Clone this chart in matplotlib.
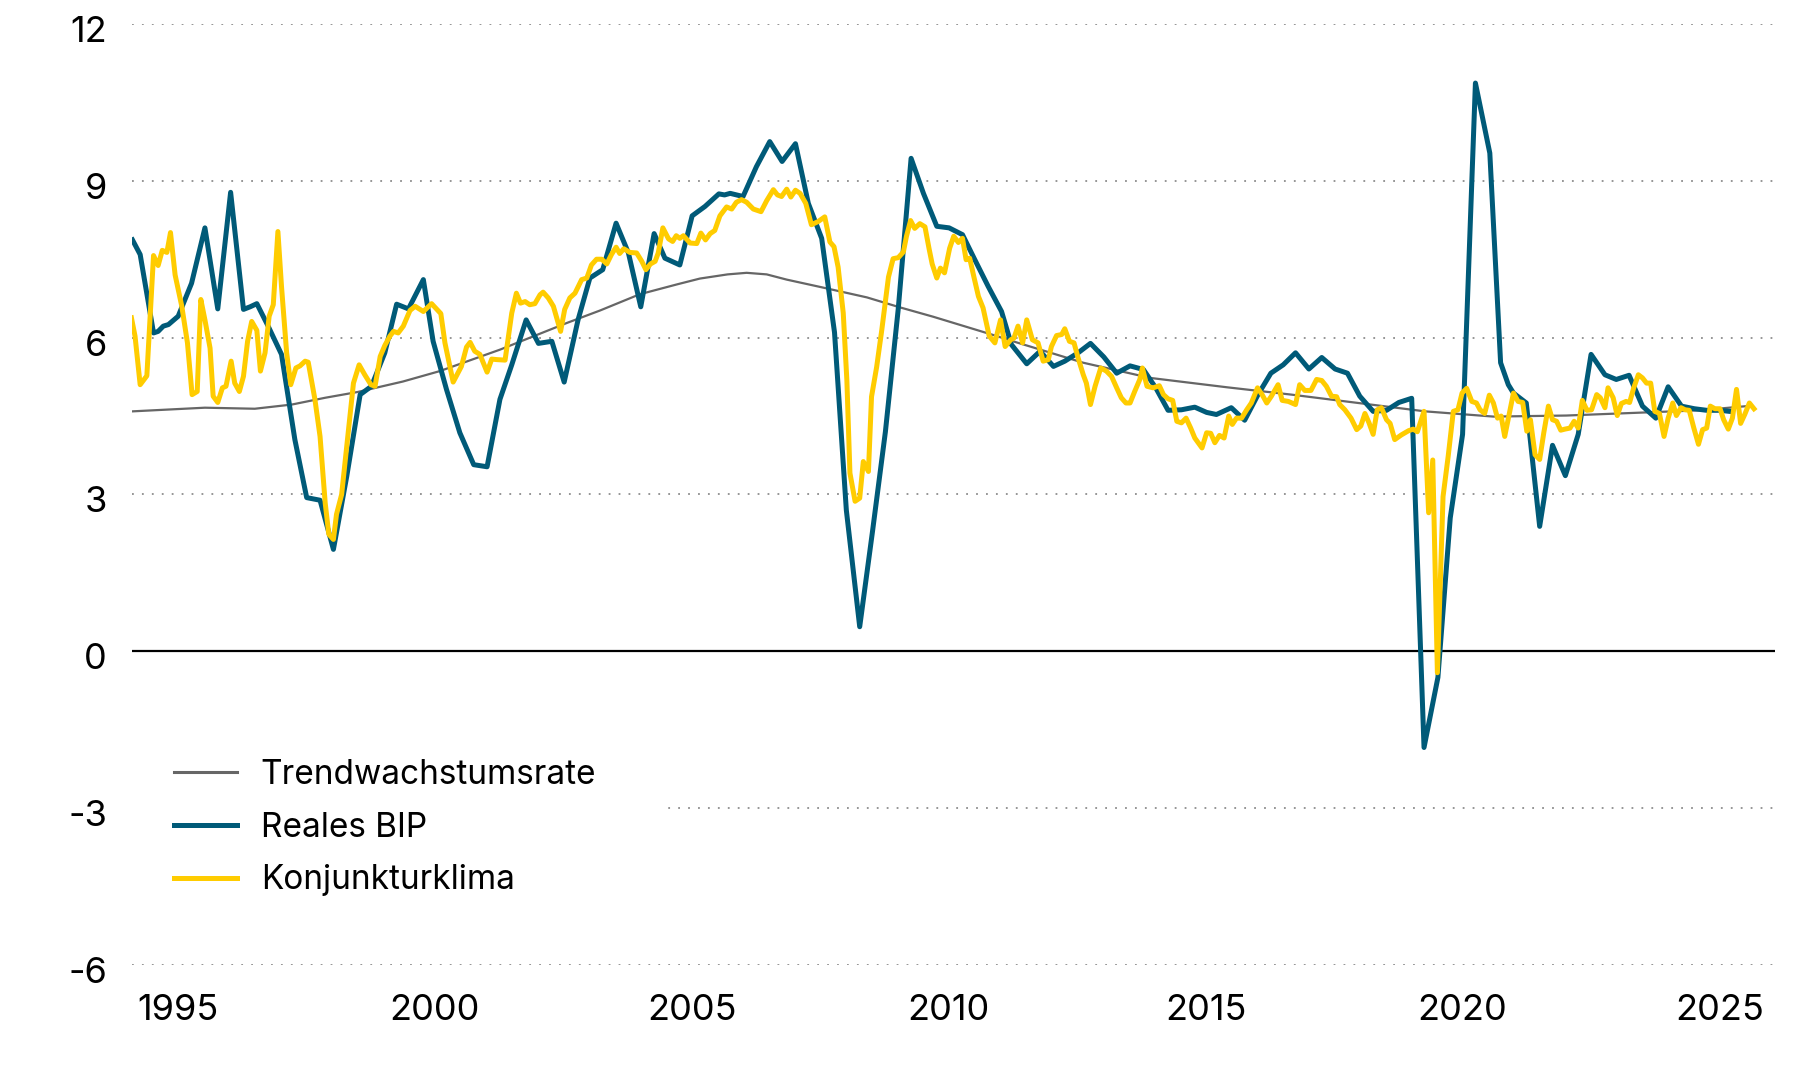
"""Reales BIP, Konjunkturklima und Trendwachstumsrate."""

import matplotlib
matplotlib.use('Agg')
import matplotlib.pyplot as plt
from matplotlib.patches import Rectangle
from matplotlib.transforms import ScaledTranslation

plt.rcParams['font.family'] = ['Inter', 'DejaVu Sans']

# Trendwachstumsrate
trend_t = [1994.12, 1995.53, 1996.50, 1997.22, 1997.87, 1998.50, 1999.38,
           2000.10, 2001.27, 2002.57, 2003.22, 2003.99, 2004.72, 2005.16,
           2005.70, 2006.07, 2006.46, 2006.85, 2007.50, 2008.41, 2009.05,
           2009.70, 2010.87, 2011.32, 2012.62, 2013.92, 2015.42, 2016.67,
           2017.97, 2019.27, 2020.60, 2022.02, 2023.32, 2024.62, 2025.53]
trend_v = [4.59, 4.66, 4.64, 4.72, 4.85, 4.96, 5.16,
           5.36, 5.77, 6.28, 6.52, 6.83, 7.02, 7.13,
           7.21, 7.24, 7.21, 7.11, 6.97, 6.77, 6.58,
           6.40, 6.05, 5.91, 5.52, 5.23, 5.05, 4.91,
           4.75, 4.59, 4.49, 4.51, 4.56, 4.61, 4.69]

# Reales BIP (Quartale)
bip_t = [1994.12, 1994.27, 1994.53, 1994.62, 1994.72, 1994.82, 1995.01,
         1995.27, 1995.53, 1995.78, 1996.03, 1996.28, 1996.41, 1996.54,
         1996.76, 1997.02, 1997.28, 1997.51, 1997.77, 1998.03, 1998.29,
         1998.55, 1998.77, 1999.03, 1999.26, 1999.49, 1999.78, 1999.97,
         2000.23, 2000.49, 2000.76, 2001.02, 2001.27, 2001.50, 2001.78,
         2002.02, 2002.28, 2002.52, 2002.79, 2003.02, 2003.27, 2003.53,
         2003.77, 2004.01, 2004.27, 2004.48, 2004.77, 2005.01, 2005.26,
         2005.53, 2005.64, 2005.75, 2006.00, 2006.26, 2006.52, 2006.76,
         2007.02, 2007.27, 2007.53, 2007.78, 2008.01, 2008.27, 2008.52,
         2008.77, 2009.02, 2009.27, 2009.51, 2009.77, 2010.01, 2010.27,
         2010.51, 2010.77, 2011.03, 2011.22, 2011.52, 2011.78, 2012.04,
         2012.26, 2012.52, 2012.76, 2013.02, 2013.27, 2013.53, 2013.79,
         2014.03, 2014.27, 2014.53, 2014.79, 2015.02, 2015.21, 2015.50,
         2015.76, 2016.02, 2016.27, 2016.51, 2016.75, 2017.01, 2017.26,
         2017.52, 2017.76, 2018.00, 2018.26, 2018.52, 2018.76, 2019.01,
         2019.25, 2019.52, 2019.76, 2020.00, 2020.25, 2020.53, 2020.74,
         2020.89, 2020.99, 2021.24, 2021.50, 2021.75, 2022.00, 2022.25,
         2022.50, 2022.77, 2022.99, 2023.24, 2023.50, 2023.76, 2024.00,
         2024.26, 2024.51, 2024.75, 2025.01, 2025.19]
bip_v = [7.87, 7.59, 6.09, 6.12, 6.22, 6.25, 6.41,
         7.04, 8.10, 6.55, 8.78, 6.54, 6.59, 6.65,
         6.22, 5.68, 4.05, 2.94, 2.89, 1.95, 3.35,
         4.91, 5.07, 5.71, 6.64, 6.55, 7.11, 5.93,
         5.01, 4.18, 3.57, 3.53, 4.82, 5.48, 6.34,
         5.89, 5.93, 5.15, 6.34, 7.14, 7.30, 8.19,
         7.62, 6.59, 7.99, 7.52, 7.39, 8.33, 8.51,
         8.75, 8.73, 8.76, 8.70, 9.27, 9.75, 9.37,
         9.71, 8.57, 7.90, 6.10, 2.70, 0.47, 2.30,
         4.20, 6.55, 9.43, 8.76, 8.13, 8.10, 7.97,
         7.49, 6.98, 6.50, 5.87, 5.50, 5.74, 5.45,
         5.55, 5.71, 5.89, 5.63, 5.32, 5.46, 5.39,
         5.04, 4.61, 4.62, 4.67, 4.57, 4.53, 4.66,
         4.42, 4.91, 5.32, 5.48, 5.71, 5.40, 5.62,
         5.40, 5.32, 4.88, 4.59, 4.61, 4.76, 4.84,
         -1.84, -0.50, 2.55, 4.15, 10.87, 9.53, 5.52,
         5.10, 4.94, 4.75, 2.39, 3.94, 3.36, 4.15,
         5.68, 5.29, 5.20, 5.28, 4.69, 4.46, 5.06,
         4.69, 4.64, 4.61, 4.61, 4.59]

# Konjunkturklima (Monate)
klima_t = [1994.10, 1994.17, 1994.27, 1994.40, 1994.53, 1994.62, 1994.70,
           1994.79, 1994.86, 1994.95, 1995.08, 1995.19, 1995.28, 1995.38,
           1995.45, 1995.53, 1995.63, 1995.69, 1995.78, 1995.87, 1995.94,
           1996.04, 1996.11, 1996.20, 1996.28, 1996.36, 1996.44, 1996.54,
           1996.61, 1996.70, 1996.78, 1996.86, 1996.95, 1997.02, 1997.12,
           1997.20, 1997.30, 1997.38, 1997.48, 1997.54, 1997.67, 1997.77,
           1997.87, 1997.94, 1998.03, 1998.09, 1998.19, 1998.29, 1998.42,
           1998.53, 1998.64, 1998.76, 1998.84, 1998.94, 1999.03, 1999.13,
           1999.20, 1999.29, 1999.39, 1999.52, 1999.62, 1999.78, 1999.94,
           2000.12, 2000.20, 2000.36, 2000.52, 2000.62, 2000.69, 2000.78,
           2000.88, 2001.02, 2001.11, 2001.21, 2001.37, 2001.50, 2001.59,
           2001.67, 2001.76, 2001.85, 2001.95, 2002.05, 2002.11, 2002.21,
           2002.31, 2002.45, 2002.53, 2002.63, 2002.73, 2002.86, 2002.96,
           2003.05, 2003.15, 2003.25, 2003.35, 2003.44, 2003.53, 2003.60,
           2003.68, 2003.80, 2003.93, 2004.03, 2004.11, 2004.20, 2004.29,
           2004.35, 2004.44, 2004.55, 2004.63, 2004.70, 2004.77, 2004.84,
           2004.97, 2005.10, 2005.18, 2005.27, 2005.36, 2005.45, 2005.55,
           2005.68, 2005.78, 2005.87, 2005.97, 2006.07, 2006.20, 2006.35,
           2006.46, 2006.59, 2006.67, 2006.75, 2006.85, 2006.93, 2007.02,
           2007.11, 2007.22, 2007.33, 2007.46, 2007.59, 2007.69, 2007.77,
           2007.85, 2007.95, 2008.02, 2008.08, 2008.18, 2008.27, 2008.34,
           2008.44, 2008.50, 2008.60, 2008.70, 2008.83, 2008.92, 2009.02,
           2009.12, 2009.18, 2009.26, 2009.34, 2009.44, 2009.54, 2009.62,
           2009.68, 2009.77, 2009.84, 2009.92, 2010.02, 2010.10, 2010.19,
           2010.27, 2010.34, 2010.41, 2010.49, 2010.58, 2010.67, 2010.79,
           2010.90, 2011.01, 2011.10, 2011.21, 2011.27, 2011.35, 2011.44,
           2011.52, 2011.63, 2011.74, 2011.84, 2011.94, 2012.00, 2012.10,
           2012.20, 2012.26, 2012.35, 2012.44, 2012.52, 2012.62, 2012.68,
           2012.76, 2012.85, 2012.96, 2013.07, 2013.17, 2013.27, 2013.36,
           2013.45, 2013.53, 2013.62, 2013.72, 2013.77, 2013.86, 2013.98,
           2014.10, 2014.18, 2014.27, 2014.36, 2014.44, 2014.53, 2014.62,
           2014.71, 2014.79, 2014.93, 2015.02, 2015.10, 2015.18, 2015.27,
           2015.36, 2015.45, 2015.52, 2015.60, 2015.70, 2015.80, 2015.89,
           2016.01, 2016.10, 2016.19, 2016.28, 2016.41, 2016.49, 2016.61,
           2016.75, 2016.83, 2016.93, 2017.05, 2017.16, 2017.26, 2017.35,
           2017.45, 2017.55, 2017.61, 2017.71, 2017.83, 2017.94, 2018.02,
           2018.10, 2018.18, 2018.26, 2018.34, 2018.42, 2018.52, 2018.59,
           2018.68, 2018.81, 2018.95, 2019.04, 2019.12, 2019.25,
           2019.34, 2019.42, 2019.51, 2019.62, 2019.72, 2019.82,
           2019.91, 2019.99, 2020.08, 2020.18, 2020.27, 2020.34, 2020.43,
           2020.52, 2020.60, 2020.68, 2020.75, 2020.82, 2020.99, 2021.08,
           2021.17, 2021.25, 2021.32, 2021.41, 2021.50, 2021.58, 2021.67,
           2021.75, 2021.83, 2021.91, 2021.99, 2022.09, 2022.17, 2022.25,
           2022.33, 2022.42, 2022.51, 2022.61, 2022.68, 2022.77, 2022.83,
           2022.93, 2023.01, 2023.09, 2023.18, 2023.25, 2023.33, 2023.42,
           2023.50, 2023.58, 2023.66, 2023.74, 2023.83, 2023.92, 2024.00,
           2024.09, 2024.16, 2024.25, 2024.33, 2024.41, 2024.50, 2024.59,
           2024.67, 2024.75, 2024.82, 2024.91, 2025.01, 2025.08, 2025.17,
           2025.25, 2025.33, 2025.41, 2025.49, 2025.58, 2025.67]
klima_v = [6.38, 6.03, 5.10, 5.27, 7.57, 7.38, 7.67,
           7.63, 8.01, 7.20, 6.60, 5.90, 4.91, 4.97,
           6.73, 6.34, 5.80, 4.88, 4.76, 5.04, 5.07,
           5.55, 5.13, 4.97, 5.26, 5.93, 6.31, 6.14,
           5.36, 5.71, 6.41, 6.63, 8.03, 6.98, 5.71,
           5.10, 5.42, 5.46, 5.55, 5.53, 4.82, 4.11,
           2.84, 2.24, 2.14, 2.62, 3.00, 3.92, 5.13,
           5.48, 5.29, 5.10, 5.07, 5.64, 5.85, 6.03,
           6.12, 6.09, 6.22, 6.52, 6.60, 6.50, 6.65,
           6.46, 5.90, 5.15, 5.45, 5.82, 5.91, 5.74,
           5.68, 5.34, 5.59, 5.58, 5.57, 6.47, 6.85,
           6.66, 6.69, 6.63, 6.65, 6.82, 6.87, 6.76,
           6.60, 6.12, 6.54, 6.76, 6.85, 7.11, 7.14,
           7.39, 7.50, 7.50, 7.41, 7.59, 7.73, 7.61,
           7.70, 7.63, 7.62, 7.46, 7.30, 7.41, 7.46,
           7.62, 8.10, 7.89, 7.84, 7.95, 7.90, 7.95,
           7.81, 7.80, 8.00, 7.87, 7.99, 8.05, 8.33,
           8.50, 8.46, 8.59, 8.64, 8.59, 8.46, 8.41,
           8.62, 8.83, 8.73, 8.70, 8.84, 8.69, 8.82,
           8.76, 8.57, 8.16, 8.22, 8.31, 7.83, 7.74,
           7.35, 6.47, 5.19, 3.41, 2.87, 2.93, 3.63,
           3.44, 4.87, 5.44, 6.15, 7.16, 7.51, 7.53,
           7.64, 7.94, 8.24, 8.09, 8.18, 8.12, 7.70,
           7.41, 7.14, 7.33, 7.24, 7.71, 7.94, 7.82,
           7.90, 7.49, 7.52, 7.17, 6.79, 6.57, 6.03,
           5.90, 6.34, 5.83, 5.96, 5.99, 6.22, 5.90,
           6.34, 5.96, 5.90, 5.55, 5.58, 5.83, 6.04,
           6.06, 6.17, 5.93, 5.90, 5.61, 5.29, 5.13,
           4.72, 5.07, 5.42, 5.36, 5.26, 5.04, 4.85,
           4.75, 4.75, 4.97, 5.20, 5.42, 5.07, 5.04,
           5.08, 4.91, 4.83, 4.80, 4.40, 4.37, 4.46,
           4.27, 4.08, 3.89, 4.18, 4.17, 3.99, 4.13,
           4.08, 4.50, 4.34, 4.46, 4.46, 4.62, 4.75,
           5.04, 4.91, 4.75, 4.88, 5.10, 4.80, 4.78,
           4.72, 5.10, 4.99, 4.99, 5.20, 5.18, 5.07,
           4.88, 4.87, 4.72, 4.62, 4.46, 4.24, 4.31,
           4.55, 4.37, 4.15, 4.62, 4.66, 4.43, 4.36,
           4.05, 4.14, 4.22, 4.25, 4.20, 4.59,
           2.65, 3.66, -0.41, 2.96, 3.73, 4.59,
           4.62, 4.94, 5.03, 4.78, 4.75, 4.62, 4.55,
           4.90, 4.75, 4.46, 4.50, 4.11, 4.94, 4.78,
           4.76, 4.21, 4.43, 3.76, 3.67, 4.18, 4.69,
           4.43, 4.40, 4.23, 4.25, 4.27, 4.40, 4.27,
           4.80, 4.61, 4.62, 4.91, 4.85, 4.66, 5.04,
           4.85, 4.51, 4.74, 4.78, 4.76, 5.04, 5.29,
           5.23, 5.13, 5.13, 4.59, 4.55, 4.11, 4.46,
           4.75, 4.51, 4.66, 4.62, 4.61, 4.27, 3.96,
           4.24, 4.27, 4.69, 4.64, 4.64, 4.43, 4.25,
           4.46, 5.01, 4.36, 4.53, 4.75, 4.64]

year_ticks = [1995, 2000, 2005, 2010, 2015, 2020, 2025]
y_ticks = [-6, -3, 0, 3, 6, 9, 12]

fig = plt.figure(figsize=(18, 10.8), dpi=100)
ax = fig.add_axes([0.0733, 0.1065, 0.9127, 0.8713])

# dotted grid, solid zero line
for y in y_ticks:
    if y == 0:
        ax.axhline(y, color='black', lw=1.6, zorder=2)
    else:
        ax.axhline(y, color='#8c8c8c', lw=1.3, ls=(0, (1, 4.5)), zorder=1)

ax.plot(trend_t, trend_v, color='#666666', lw=1.6, label='Trendwachstumsrate', zorder=3)
ax.plot(bip_t, bip_v, color='#005a78', lw=3.6, label='Reales BIP', zorder=4,
        solid_joinstyle='round')
ax.plot(klima_t, klima_v, color='#ffcc00', lw=3.6, label='Konjunkturklima', zorder=5,
        solid_joinstyle='round')

ax.set_xlim(1994.11, 2026.075)
ax.set_ylim(-6, 12)
ax.set_xticks(year_ticks)
ax.set_yticks(y_ticks)
ax.set_yticklabels([str(v) for v in y_ticks])
ax.tick_params(axis='both', length=0, labelsize=26, colors='black')
ax.tick_params(axis='y', pad=18)
ax.tick_params(axis='x', pad=21)
for s in ax.spines.values():
    s.set_visible(False)

# nudge y labels slightly down like the original
shift = ScaledTranslation(0, -0.05, fig.dpi_scale_trans)
for tick in ax.yaxis.get_major_ticks():
    tick.label1.set_transform(tick.label1.get_transform() + shift)

# white backing behind legend hides the -3 grid line there
ax.add_patch(Rectangle((0.0, 0.06), 0.325, 0.18, transform=ax.transAxes,
                       facecolor='white', edgecolor='none', zorder=6))
leg = ax.legend(loc='upper left', bbox_to_anchor=(0.0256, 0.219), frameon=False,
                fontsize=24, handlelength=1.9, handletextpad=0.7,
                labelspacing=0.62, borderaxespad=0, borderpad=0)
leg.set_zorder(7)
leg.get_lines()[0].set_linewidth(2.2)

fig.savefig('out.png', dpi=100)
